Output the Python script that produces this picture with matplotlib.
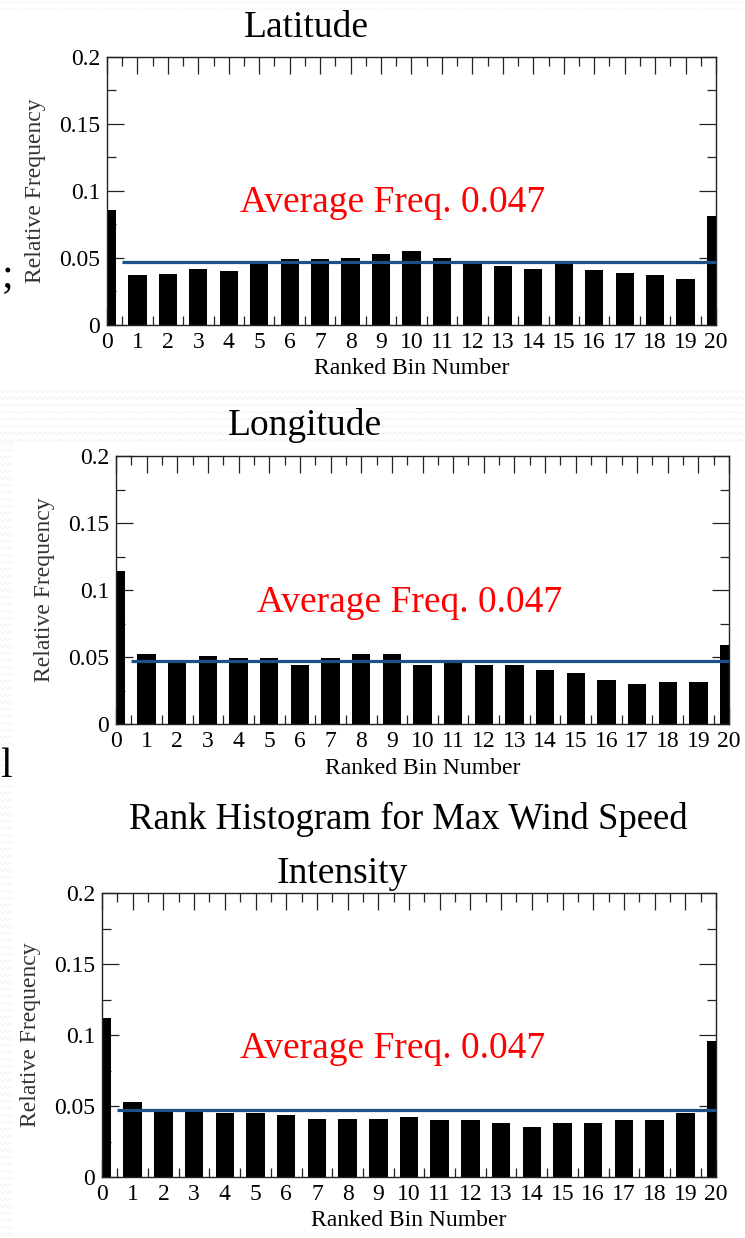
import numpy as np
import matplotlib
matplotlib.use("Agg")
import matplotlib.pyplot as plt
from matplotlib.ticker import MultipleLocator, FixedLocator

W, H = 745, 1238
SERIF = ["Liberation Serif", "DejaVu Serif"]

# Rank bins 0..20 and relative frequency per bin
bins = list(range(21))
latitude = [0.086, 0.037, 0.038, 0.042, 0.040, 0.046, 0.049, 0.049, 0.050, 0.053,
            0.055, 0.050, 0.047, 0.044, 0.042, 0.046, 0.041, 0.039, 0.037, 0.034, 0.081]
longitude = [0.114, 0.052, 0.046, 0.051, 0.049, 0.049, 0.044, 0.049, 0.052, 0.052,
             0.044, 0.046, 0.044, 0.044, 0.040, 0.038, 0.033, 0.030, 0.031, 0.031, 0.059]
intensity = [0.112, 0.053, 0.047, 0.047, 0.045, 0.045, 0.044, 0.041, 0.041, 0.041,
             0.042, 0.040, 0.040, 0.038, 0.035, 0.038, 0.038, 0.040, 0.040, 0.045, 0.096]
avg_freq = 0.047

y_ticks = [0, 0.05, 0.1, 0.15, 0.2]
y_tick_labels = ["0", "0.05", "0.1", "0.15", "0.2"]

fig = plt.figure(figsize=(W / 100, H / 100), dpi=100)
fig.patch.set_facecolor("white")


def fx(x):
    return x / W


def fy(y):
    return 1 - y / H


# faint zig-zag slide texture along the strips around the plot images
bg = fig.add_axes([0, 0, 1, 1], zorder=-5)
bg.set_xlim(0, W)
bg.set_ylim(H, 0)
bg.axis("off")


def zigzag(x0, x1, y0, y1, step=7.0, period=5.0, amp=2.5):
    xs = np.arange(x0, x1 + period, period / 2)
    wave = np.where((np.arange(len(xs)) % 2) == 0, 0.0, amp)
    for yy in np.arange(y0, y1, step):
        bg.plot(xs, yy + wave, color="#f1f1f1", lw=0.6, solid_joinstyle="miter")


zigzag(0, W, 1, 11)
zigzag(0, W, 390, 442)
zigzag(0, 9, 442, H)


def panel(rect, values, title, title_pos, label_pos):
    l, t, r, b = rect
    ax = fig.add_axes([fx(l), fy(b), fx(r - l), (b - t) / H])
    ax.bar(bins, values, width=0.6, color="black", edgecolor="none", zorder=2)
    ax.plot([0.5, 20], [avg_freq, avg_freq], color="#1d4f88", lw=2.3,
            solid_capstyle="butt", clip_on=False, zorder=4)
    ax.set_xlim(0, 20)
    ax.set_ylim(0, 0.2)
    ax.xaxis.set_major_locator(FixedLocator(bins))
    ax.xaxis.set_minor_locator(FixedLocator([i + 0.5 for i in bins[:-1]]))
    ax.set_xticklabels([str(i) for i in bins])
    ax.yaxis.set_major_locator(FixedLocator(y_ticks))
    ax.yaxis.set_minor_locator(MultipleLocator(0.025))
    ax.set_yticklabels(y_tick_labels)
    ax.tick_params(which="both", direction="in", top=True, right=True,
                   width=0.9, color="#222222")
    ax.tick_params(which="major", length=12.5, pad=5, labelsize=17)
    ax.tick_params(which="minor", length=6.5)
    for lab in ax.get_xticklabels() + ax.get_yticklabels():
        lab.set_family(SERIF)
    for s in ax.spines.values():
        s.set_linewidth(1.0)
        s.set_color("#222222")
    ax.set_xlabel("Ranked Bin Number", family=SERIF, fontsize=17, labelpad=4)
    ax.set_ylabel("Relative Frequency", family=SERIF, fontsize=17, labelpad=9,
                  color="#333333")
    fig.text(fx(title_pos[0]), fy(title_pos[1]), title, family=SERIF,
             fontsize=27, ha="center", va="baseline")
    fig.text(fx(label_pos[0]), fy(label_pos[1]), f"Average Freq. {avg_freq:.3f}",
             family=SERIF, fontsize=27, color="#ff0000", ha="center", va="baseline")
    return ax


panel((107, 57, 716, 325), latitude, "Latitude", (306, 37), (393, 212))
panel((116, 456, 729, 724), longitude, "Longitude", (305, 435), (410, 612))
panel((102, 893, 716, 1177), intensity, "Intensity", (342, 883), (393, 1058))

fig.text(fx(408), fy(829), "Rank Histogram for Max Wind Speed", family=SERIF,
         fontsize=26.5, ha="center", va="baseline")

# clipped slide body text at the left edge
fig.text(fx(13), fy(287), ";", family=SERIF, fontsize=30, ha="right", va="baseline")
fig.text(fx(12), fy(777), "l", family=SERIF, fontsize=30, ha="right", va="baseline")

fig.savefig("out.png", dpi=100, facecolor="white")
